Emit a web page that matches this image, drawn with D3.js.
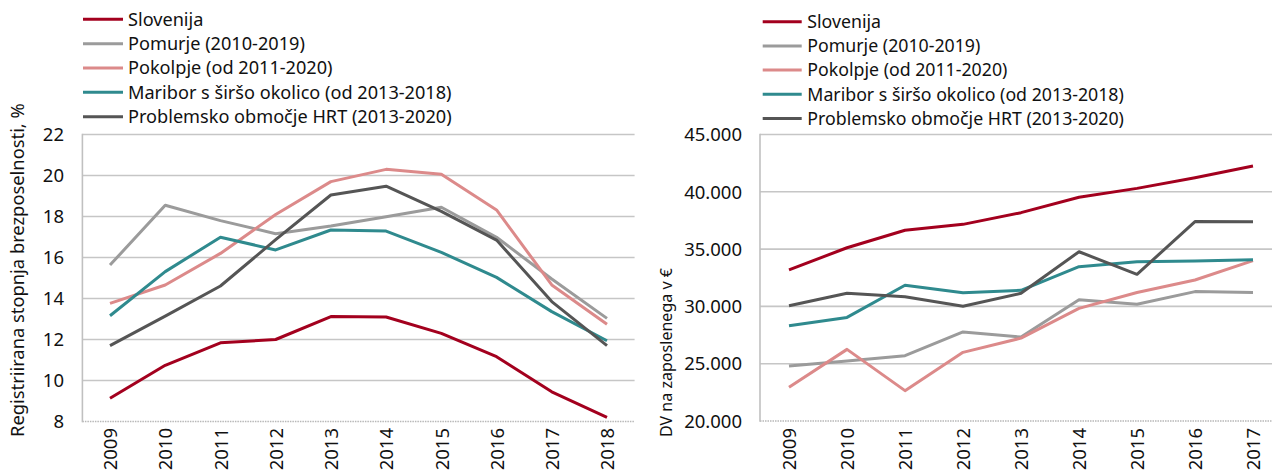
<!DOCTYPE html>
<html><head><meta charset="utf-8">
<script src="https://cdn.jsdelivr.net/npm/d3@7/dist/d3.min.js"></script>
<style>
html,body{margin:0;padding:0;background:#fff;}
svg{display:block;font-family:"Noto Sans",sans-serif;}
</style></head>
<body><svg id="c" width="1272" height="472"></svg>
<script>
const seriesNames = ["Slovenija","Pomurje (2010-2019)","Pokolpje (od 2011-2020)","Maribor s širšo okolico (od 2013-2018)","Problemsko območje HRT (2013-2020)"];
const colors = ["#a3001e","#9b9b9b","#dc8a8a","#2f8a8e","#555555"];

const yearsLeft = [2009,2010,2011,2012,2013,2014,2015,2016,2017,2018];
const unempSlovenija = [9.13,10.74,11.84,12.0,13.12,13.1,12.3,11.16,9.45,8.2];
const unempPomurje   = [15.63,18.55,17.8,17.16,17.54,17.99,18.45,16.99,14.95,13.03];
const unempPokolpje  = [13.76,14.66,16.2,18.1,19.7,20.3,20.06,18.32,14.66,12.74];
const unempMaribor   = [13.16,15.31,16.99,16.37,17.34,17.29,16.25,15.03,13.36,11.94];
const unempHRT       = [11.7,13.14,14.61,16.87,19.05,19.48,18.25,16.85,13.85,11.7];
const leftTicks = [8,10,12,14,16,18,20,22];
const leftTitle = "Registriirana stopnja brezposelnosti, %";

const yearsRight = [2009,2010,2011,2012,2013,2014,2015,2016,2017];
const dvSlovenija = [33180,35120,36650,37160,38180,39520,40300,41230,42250];
const dvPomurje   = [24800,25240,25700,27770,27320,30580,30190,31290,31220];
const dvPokolpje  = [22940,26250,22650,25990,27230,29830,31210,32300,33990];
const dvMaribor   = [28320,29040,31850,31200,31400,33470,33900,33960,34080];
const dvHRT       = [30060,31140,30850,30020,31140,34770,32800,37400,37380];
const rightTicks = [20000,25000,30000,35000,40000,45000];
const rightTitle = "DV na zaposlenega v €";

const svg = d3.select("#c");
const fmtDot = v => d3.format(",")(v).replace(/,/g,".");

function fitWidth(sel, target){
  const w = sel.node().getComputedTextLength();
  const fs = parseFloat(sel.attr("font-size"));
  sel.attr("font-size", fs*target/w);
}

function drawChart(o){
  const g = svg.append("g");
  const x = d3.scalePoint().domain(o.years).range([o.x0,o.x1]).padding(0.5);
  const y = d3.scaleLinear().domain([o.ticks[0],o.ticks[o.ticks.length-1]]).range([o.y0,o.y1]);
  g.append("g").selectAll("line").data(o.ticks.slice(1)).join("line")
    .attr("x1",o.x0).attr("x2",o.x1).attr("y1",d=>y(d)).attr("y2",d=>y(d))
    .attr("stroke","#c6c6c6").attr("stroke-width",1.6);
  g.append("line").attr("x1",o.x0).attr("x2",o.x1).attr("y1",y(o.ticks[0])).attr("y2",y(o.ticks[0]))
    .attr("stroke","#b8b8b8").attr("stroke-width",1.6).attr("stroke-dasharray","1.5,1");
  g.append("line").attr("x1",o.x0).attr("x2",o.x0).attr("y1",o.y0+0.8).attr("y2",o.y1-0.8)
    .attr("stroke","#c0c0c0").attr("stroke-width",1.6);
  const yAxis = d3.axisLeft(y).tickValues(o.ticks).tickSize(0).tickPadding(0).tickFormat(o.fmt);
  const ya = g.append("g").attr("transform",`translate(${o.yLabelX},0)`).call(yAxis);
  ya.select(".domain").remove();
  ya.selectAll("text").attr("font-size",o.tickFs).attr("fill","#111").attr("font-family","Noto Sans, sans-serif").attr("dy","0.34em");
  const xAxis = d3.axisBottom(x).tickSize(0).tickPadding(0);
  const xa = g.append("g").attr("transform",`translate(0,${o.xLabelY})`).call(xAxis);
  xa.select(".domain").remove();
  xa.selectAll("text").attr("font-size",o.tickFs).attr("fill","#111").attr("font-family","Noto Sans, sans-serif")
    .attr("transform","rotate(-90)").attr("text-anchor","end").attr("x",0).attr("y",0).attr("dy","0.36em");
  const line = d3.line().x((d,i)=>x(o.years[i])).y(d=>y(d));
  o.series.forEach((s,i)=>{
    g.append("path").attr("d",line(s)).attr("fill","none").attr("stroke",colors[i])
      .attr("stroke-width",3).attr("stroke-linejoin","round");
  });
  const t = g.append("text").attr("transform",`translate(${o.titleX},${o.titleY}) rotate(-90)`)
    .attr("text-anchor","start").attr("font-size",18).attr("fill","#111").attr("dy","0.35em").text(o.title);
  fitWidth(t, o.titleW);
  const lg = g.append("g");
  seriesNames.forEach((n,i)=>{
    const cy = o.legY + i*o.legStep;
    lg.append("line").attr("x1",o.legX0).attr("x2",o.legX1).attr("y1",cy).attr("y2",cy)
      .attr("stroke",colors[i]).attr("stroke-width",3);
    lg.append("text").attr("class","lt").attr("x",o.legTX).attr("y",cy).attr("dy","0.35em")
      .attr("font-size",17).attr("fill","#111").text(n);
  });
  const texts = lg.selectAll("text.lt");
  const longest = texts.filter((d,i)=>i===3);
  const w = longest.node().getComputedTextLength();
  texts.attr("font-size",17*o.legW/w);
}

drawChart({years:yearsLeft, series:[unempSlovenija,unempPomurje,unempPokolpje,unempMaribor,unempHRT],
  ticks:leftTicks, x0:82.4, x1:634.6, y0:421.5, y1:134.5, fmt:d3.format("d"), tickFs:18.5,
  yLabelX:64, xLabelY:428, title:leftTitle, titleX:18, titleY:437, titleW:334,
  legX0:83, legX1:123, legTX:128, legY:19.3, legStep:24.35, legW:323.7});

drawChart({years:yearsRight, series:[dvSlovenija,dvPomurje,dvPokolpje,dvMaribor,dvHRT],
  ticks:rightTicks, x0:760, x1:1282, y0:421, y1:134.5, fmt:fmtDot, tickFs:18.5,
  yLabelX:742, xLabelY:428, title:rightTitle, titleX:666, titleY:437, titleW:169,
  legX0:762.7, legX1:801.7, legTX:807.3, legY:21.7, legStep:24.2, legW:316.7});
</script></body></html>
